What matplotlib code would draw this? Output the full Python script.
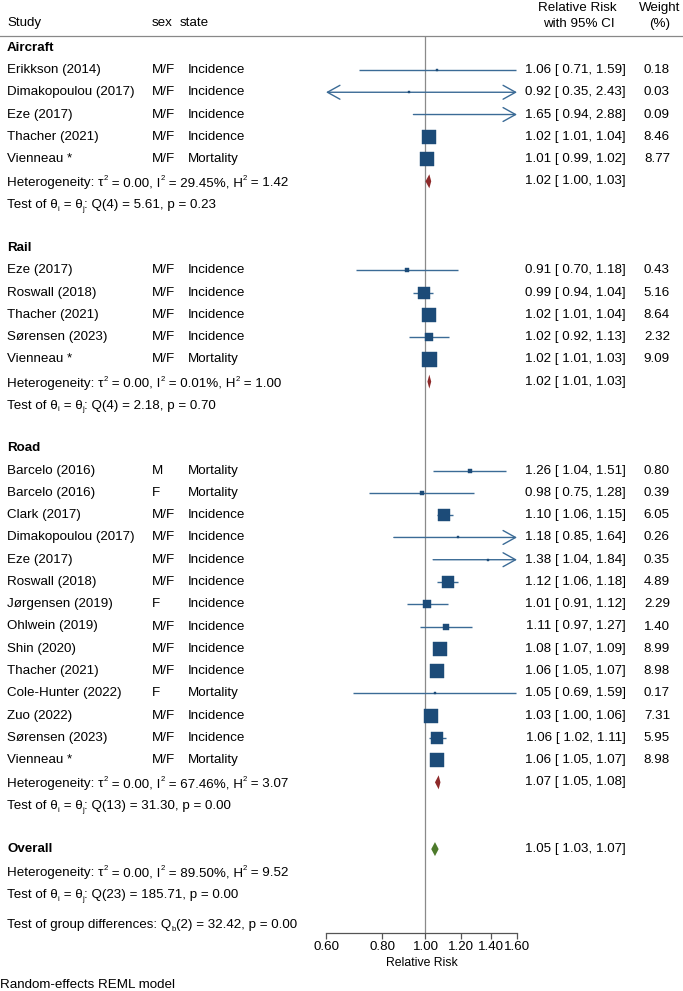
import matplotlib
matplotlib.use("Agg")
import matplotlib.pyplot as plt
from matplotlib.transforms import blended_transform_factory, offset_copy
from matplotlib.patches import Polygon
import numpy as np

plt.rcParams['font.family'] = ['Liberation Sans', 'DejaVu Sans']

# ---- data ----
group_names = ["Aircraft", "Rail", "Road"]

aircraft_study = ["Erikkson (2014)", "Dimakopoulou (2017)", "Eze (2017)", "Thacher (2021)", "Vienneau *"]
aircraft_sex = ["M/F", "M/F", "M/F", "M/F", "M/F"]
aircraft_state = ["Incidence", "Incidence", "Incidence", "Incidence", "Mortality"]
aircraft_rr = [1.06, 0.92, 1.65, 1.02, 1.01]
aircraft_lo = [0.71, 0.35, 0.94, 1.01, 0.99]
aircraft_hi = [1.59, 2.43, 2.88, 1.04, 1.02]
aircraft_w = [0.18, 0.03, 0.09, 8.46, 8.77]

rail_study = ["Eze (2017)", "Roswall (2018)", "Thacher (2021)", "Sørensen (2023)", "Vienneau *"]
rail_sex = ["M/F", "M/F", "M/F", "M/F", "M/F"]
rail_state = ["Incidence", "Incidence", "Incidence", "Incidence", "Mortality"]
rail_rr = [0.91, 0.99, 1.02, 1.02, 1.02]
rail_lo = [0.70, 0.94, 1.01, 0.92, 1.01]
rail_hi = [1.18, 1.04, 1.04, 1.13, 1.03]
rail_w = [0.43, 5.16, 8.64, 2.32, 9.09]

road_study = ["Barcelo (2016)", "Barcelo (2016)", "Clark (2017)", "Dimakopoulou (2017)", "Eze (2017)",
              "Roswall (2018)", "Jørgensen (2019)", "Ohlwein (2019)", "Shin (2020)", "Thacher (2021)",
              "Cole-Hunter (2022)", "Zuo (2022)", "Sørensen (2023)", "Vienneau *"]
road_sex = ["M", "F", "M/F", "M/F", "M/F", "M/F", "F", "M/F", "M/F", "M/F", "F", "M/F", "M/F", "M/F"]
road_state = ["Mortality", "Mortality", "Incidence", "Incidence", "Incidence", "Incidence", "Incidence",
              "Incidence", "Incidence", "Incidence", "Mortality", "Incidence", "Incidence", "Mortality"]
road_rr = [1.26, 0.98, 1.10, 1.18, 1.38, 1.12, 1.01, 1.11, 1.08, 1.06, 1.05, 1.03, 1.06, 1.06]
road_lo = [1.04, 0.75, 1.06, 0.85, 1.04, 1.06, 0.91, 0.97, 1.07, 1.05, 0.69, 1.00, 1.02, 1.05]
road_hi = [1.51, 1.28, 1.15, 1.64, 1.84, 1.18, 1.12, 1.27, 1.09, 1.07, 1.59, 1.06, 1.11, 1.07]
road_w = [0.80, 0.39, 6.05, 0.26, 0.35, 4.89, 2.29, 1.40, 8.99, 8.98, 0.17, 7.31, 5.95, 8.98]

# pooled per group
pooled_rr = [1.02, 1.02, 1.07]
pooled_lo = [1.00, 1.01, 1.05]
pooled_hi = [1.03, 1.03, 1.08]
tau2 = [0.00, 0.00, 0.00]
i2 = [29.45, 0.01, 67.46]
h2 = [1.42, 1.00, 3.07]
q_df = [4, 4, 13]
q_val = [5.61, 2.18, 31.30]
q_p = [0.23, 0.70, 0.00]

overall_rr, overall_lo, overall_hi = 1.05, 1.03, 1.07
overall_tau2, overall_i2, overall_h2 = 0.00, 89.50, 9.52
overall_qdf, overall_q, overall_p = 23, 185.71, 0.00
groupdiff_df, groupdiff_q, groupdiff_p = 2, 32.42, 0.00

xticks = [0.60, 0.80, 1.00, 1.20, 1.40, 1.60]

groups = [
    (aircraft_study, aircraft_sex, aircraft_state, aircraft_rr, aircraft_lo, aircraft_hi, aircraft_w),
    (rail_study, rail_sex, rail_state, rail_rr, rail_lo, rail_hi, rail_w),
    (road_study, road_sex, road_state, road_rr, road_lo, road_hi, road_w),
]

# ---- layout ----
W, H = 683, 991
FS = 9.6
XMIN, XMAX = 0.60, 1.60
ROW0_PX, ROW_PX = 70.0, 22.26   # pixel y of first study row, row spacing
LINE_C = "#3b6b96"
BOX_C = "#1c4b78"
RED_C = "#8e2a2a"
GREEN_C = "#4d7a2b"

fig = plt.figure(figsize=(W / 100, H / 100), dpi=100)
ax_top, ax_bot = 36, 933
ax = fig.add_axes([326 / W, 1 - ax_bot / H, (517 - 326) / W, (ax_bot - ax_top) / H])
ax.set_xscale("log")
ax.set_xlim(XMIN, XMAX)
ax.set_ylim((ax_bot - ROW0_PX) / ROW_PX, (ax_top - ROW0_PX) / ROW_PX)
for s in ["top", "left", "right"]:
    ax.spines[s].set_visible(False)
ax.spines["bottom"].set_color("#555555")
ax.spines["bottom"].set_linewidth(0.9)
ax.set_yticks([])
ax.set_xticks(xticks)
ax.set_xticks([], minor=True)
ax.set_xticklabels([f"{t:.2f}" for t in xticks], fontsize=FS)
ax.tick_params(axis="x", length=4, width=0.9, color="#555555", pad=1.5)
ax.set_xlabel("Relative Risk", fontsize=8.8, labelpad=3)
ax.axvline(1.0, color="#8a8a8a", lw=0.9, zorder=0)

tr = blended_transform_factory(fig.transFigure, ax.transData)
renderer = fig.canvas.get_renderer()


def put(xpx, row, s, ha="left", **kw):
    fig.text(xpx / W, row, s, transform=tr, ha=ha, va="center", fontsize=FS, **kw)


def rich(xpx, row, parts):
    # draw text pieces one after another; kind: n normal, sub, sup
    x = xpx / W
    for s, kind in parts:
        if kind == "n":
            t_tr, fs = offset_copy(tr, fig, y=-3.5, units="points"), FS
        elif kind == "sub":
            t_tr, fs = offset_copy(tr, fig, y=-5.3, units="points"), FS * 0.58
        else:
            t_tr, fs = offset_copy(tr, fig, y=0.8, units="points"), FS * 0.58
        t = fig.text(x, row, s, transform=t_tr, ha="left", va="baseline", fontsize=fs)
        bb = t.get_window_extent(renderer)
        x = bb.x1 / W


def het_parts(t2, ii, hh):
    return [("Heterogeneity: τ", "n"), ("2", "sup"), (f" = {t2:.2f}, I", "n"), ("2", "sup"),
            (f" = {ii:.2f}%, H", "n"), ("2", "sup"), (f" = {hh:.2f}", "n")]


def test_parts(df, q, p):
    return [("Test of θ", "n"), ("i", "sub"), (" = θ", "n"), ("j", "sub"),
            (f": Q({df}) = {q:.2f}, p = {p:.2f}", "n")]


def ci_text(r, lo, hi):
    return f"{r:.2f} [ {lo:.2f}, {hi:.2f}]"


def diamond(r, lo, hi, row, color):
    h = 7.0 / ROW_PX
    ax.add_patch(Polygon([(lo, row), (r, row - h), (hi, row), (r, row + h)],
                         closed=True, color=color, lw=0, zorder=3))


# header
fig.text(7 / W, 1 - 23 / H, "Study", fontsize=FS, va="center")
fig.text(152 / W, 1 - 23 / H, "sex", fontsize=FS, va="center")
fig.text(180 / W, 1 - 23 / H, "state", fontsize=FS, va="center")
fig.text(577 / W, 1 - 8 / H, "Relative Risk", fontsize=FS, va="center", ha="center")
fig.text(579 / W, 1 - 24 / H, "with 95% CI", fontsize=FS, va="center", ha="center")
fig.text(660 / W, 1 - 8 / H, "Weight", fontsize=FS, va="center", ha="center")
fig.text(660 / W, 1 - 24 / H, "(%)", fontsize=FS, va="center", ha="center")
fig.add_artist(plt.Line2D([0, 1], [1 - 36 / H, 1 - 36 / H], color="#888888", lw=0.9))

row = -1
for g, (study, sex, state, rr, lo, hi, w) in enumerate(groups):
    put(7, row, group_names[g], fontweight="bold")
    row += 1
    for k in range(len(study)):
        put(7, row, study[k])
        put(152, row, sex[k])
        put(188, row, state[k])
        put(626, row, ci_text(rr[k], lo[k], hi[k]), ha="right")
        put(670, row, f"{w[k]:.2f}", ha="right")
        a = max(lo[k], XMIN)
        b = min(hi[k], XMAX)
        left_arrow = lo[k] < XMIN
        right_arrow = hi[k] > XMAX
        if left_arrow or right_arrow:
            style = "<->" if (left_arrow and right_arrow) else ("->" if right_arrow else "<-")
            ax.annotate("", xy=(b, row), xytext=(a, row),
                        arrowprops=dict(arrowstyle=style + ",head_length=0.9,head_width=0.5",
                                        color=LINE_C, lw=1.0, shrinkA=0, shrinkB=0),
                        annotation_clip=False)
        else:
            ax.plot([a, b], [row, row], color=LINE_C, lw=1.0, solid_capstyle="butt", zorder=2)
        if XMIN <= rr[k] <= XMAX:
            side = max(15 * np.sqrt(w[k] / 9.09), 2.5)
            ax.plot(rr[k], row, marker="s", ms=side * 0.72, color=BOX_C, mec=BOX_C, mew=0.3, zorder=4)
        row += 1
    rich(7, row, het_parts(tau2[g], i2[g], h2[g]))
    diamond(pooled_rr[g], pooled_lo[g], pooled_hi[g], row, RED_C)
    put(626, row, ci_text(pooled_rr[g], pooled_lo[g], pooled_hi[g]), ha="right")
    row += 1
    rich(7, row, test_parts(q_df[g], q_val[g], q_p[g]))
    row += 2

put(7, row, "Overall", fontweight="bold")
diamond(overall_rr, overall_lo, overall_hi, row, GREEN_C)
put(626, row, ci_text(overall_rr, overall_lo, overall_hi), ha="right")
row += 1
rich(7, row, het_parts(overall_tau2, overall_i2, overall_h2))
row += 1
rich(7, row, test_parts(overall_qdf, overall_q, overall_p))
row += 1
rich(7, row + 0.33, [("Test of group differences: Q", "n"), ("b", "sub"),
                     (f"({groupdiff_df}) = {groupdiff_q:.2f}, p = {groupdiff_p:.2f}", "n")])

fig.text(0 / W, 1 - 985 / H, "Random-effects REML model", fontsize=FS, va="center")

fig.savefig("out.png", dpi=100)
